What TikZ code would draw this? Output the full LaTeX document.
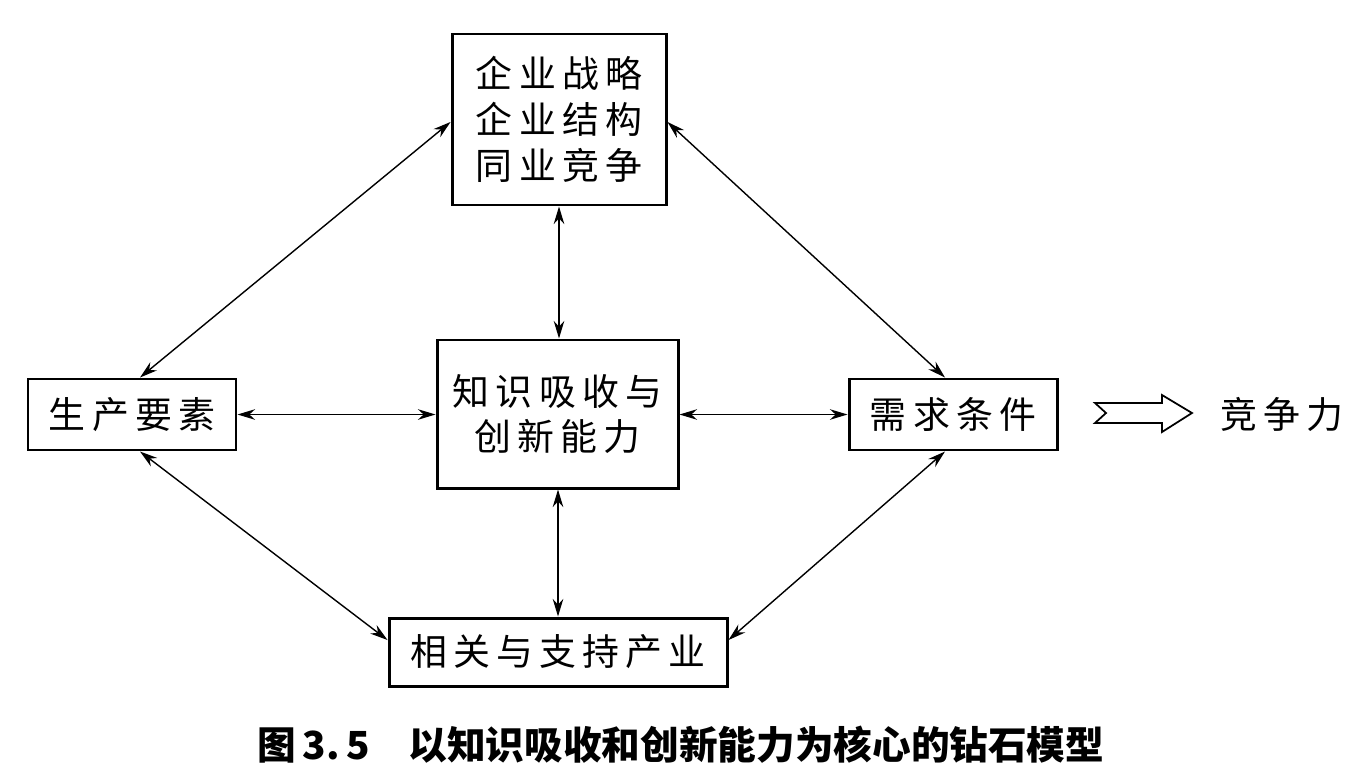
\documentclass[tikz,border=0pt]{standalone}
\usepackage{fontspec}
\setmainfont{Noto Sans CJK SC}
\usetikzlibrary{arrows.meta}
\begin{document}
\begin{tikzpicture}[x=0.02cm,y=-0.02cm,
  box/.style={draw,line width=1.7pt,inner sep=0pt,font=\fontsize{21}{26}\selectfont,align=center},
  conn/.style={line width=0.8pt,{Stealth[length=10pt,width=6pt]}-{Stealth[length=10pt,width=6pt]}},
  lbl/.style={font=\fontsize{21}{26}\selectfont}]
\useasboundingbox (0,0) rectangle (1351,777);
\node[box,minimum width=214*0.02cm,minimum height=171*0.02cm] (top) at (559,119.5) {企\,业\,战\,略\\企\,业\,结\,构\\同\,业\,竞\,争};
\node[box,minimum width=241*0.02cm,minimum height=148*0.02cm] (mid) at (557.5,414) {知\,识\,吸\,收\,与\\创\,新\,能\,力};
\node[box,minimum width=208*0.02cm,minimum height=71*0.02cm] (left) at (132,414.5) {生\,产\,要\,素};
\node[box,minimum width=208*0.02cm,minimum height=71*0.02cm] (right) at (953,414.5) {需\,求\,条\,件};
\node[box,minimum width=338*0.02cm,minimum height=68*0.02cm] (bot) at (558,652) {相\,关\,与\,支\,持\,产\,业};
\node[lbl] (comp) at (1282,414) {竞\,争\,力};
\node[font=\fontsize{22}{26}\selectfont\bfseries] (cap) at (681,745) {图\,3.\,5\quad 以知识吸收和创新能力为核心的钻石模型};
% connectors
\draw[conn] ([xshift=8*0.02cm]left.north) -- (top.west |- 0,122);
\draw[conn] (top.east |- 0,122) -- ([xshift=-8*0.02cm]right.north);
\draw[conn] ([xshift=8*0.02cm]left.south) -- (bot.west |- 0,640);
\draw[conn] ([xshift=-8*0.02cm]right.south) -- (bot.east |- 0,640);
\draw[conn] (top.south) -- (top.south |- mid.north);
\draw[conn] (bot.north |- mid.south) -- (bot.north);
\draw[conn] (left.east) -- (mid.west |- left.east);
\draw[conn] (mid.east |- right.west) -- (right.west);
% hollow arrow
\draw[line width=1pt,line join=miter] (1095,403) -- (1162,403) -- (1162,395) -- (1192,413) -- (1162,432) -- (1162,423) -- (1095,423) -- (1106,413) -- cycle;
\end{tikzpicture}
\end{document}
